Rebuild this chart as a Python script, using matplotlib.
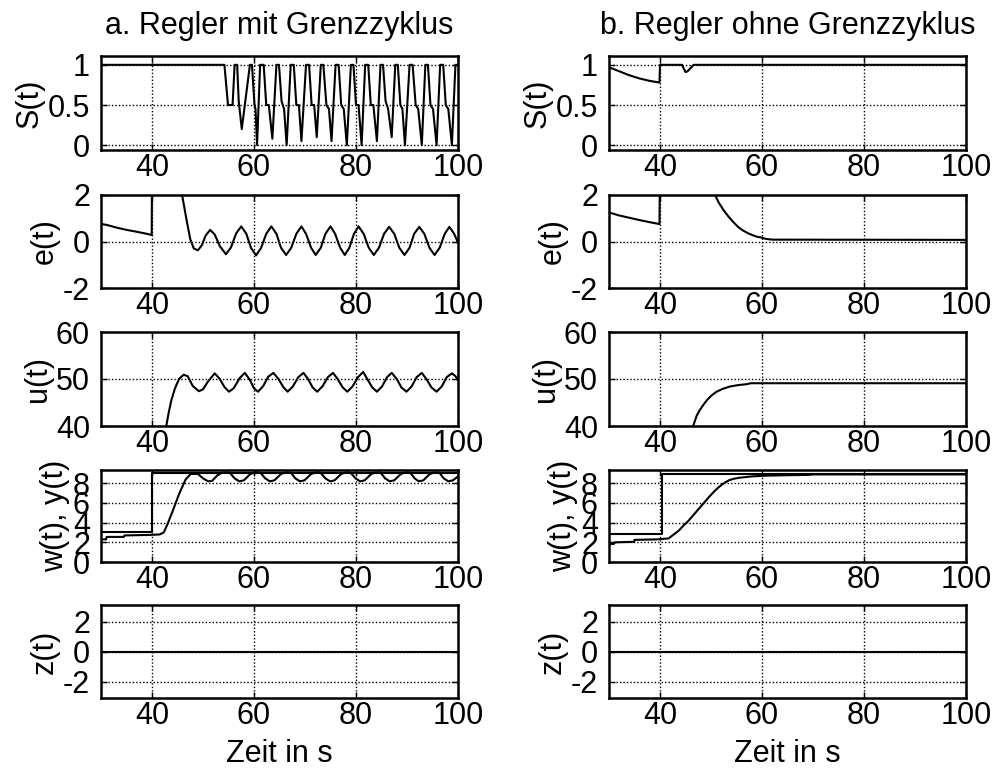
import matplotlib
matplotlib.use("Agg")
import matplotlib.pyplot as plt

# ---------------- data ----------------
x_ticks = [40, 60, 80, 100]
titles = ["a. Regler mit Grenzzyklus", "b. Regler ohne Grenzzyklus"]
row_labels = ["S(t)", "e(t)", "u(t)", "w(t), y(t)", "z(t)"]
xlabel_text = "Zeit in s"

# Left column: controller with limit cycle
S_a_t = [30, 54.2, 54.9, 55.8, 56.2,
         56.7, 57.0, 57.6, 58.4, 59.2,
         59.6, 60.1, 60.3, 60.6, 61.2,
         61.9, 62.4, 62.9, 63.6, 64.4,
         64.9, 65.4, 65.9, 66.4, 67.2,
         67.8, 68.3, 68.8, 69.3, 70.2,
         70.8, 71.3, 71.8, 72.3, 73.1,
         73.6, 74.2, 74.7, 75.2, 76.0,
         76.6, 77.1, 77.6, 78.2, 79.0,
         79.5, 80.0, 80.5, 81.1, 81.8,
         82.4, 82.9, 83.4, 84.1, 84.8,
         85.3, 85.8, 86.3, 87.0, 87.7,
         88.2, 88.7, 89.1, 89.6, 90.5,
         91.1, 91.7, 92.2, 92.9, 93.6,
         94.1, 94.6, 95.1, 95.8, 96.5,
         97.1, 97.6, 98.1, 98.8, 99.5,
         100]
S_a_v = [1, 1, 0.5, 0.5, 1,
         1, 0.55, 0.2, 0.6, 1,
         1, 0.5, 0.45, 0.0, 1,
         1, 0.5, 0.5, 0.08, 1,
         1, 0.55, 0.45, 0.0, 1,
         1, 0.5, 0.5, 0.05, 1,
         1, 0.5, 0.5, 0.1, 1,
         1, 0.5, 0.45, 0.05, 1,
         1, 0.5, 0.45, 0.0, 1,
         1, 0.5, 0.5, 0.0, 1,
         1, 0.5, 0.5, 0.05, 1,
         1, 0.55, 0.45, 0.1, 1,
         1, 0.5, 0.45, 0.0, 1,
         1, 0.5, 0.45, 0.0, 1,
         1, 0.5, 0.45, 0.0, 1,
         1, 0.5, 0.45, 0.0, 1,
         1]

e_a_t = [30, 31, 33, 35, 37, 39, 39.95, 40.0, 45.0, 45.9, 46.8, 47.5, 48.2,
         49.0, 49.8, 50.5, 51.4, 52.3, 53.3, 54.5, 55.5, 56.5, 57.5, 58.5,
         59.4, 60.4, 61.4, 62.4, 63.4, 64.4, 65.3, 66.3, 67.3, 68.3, 69.3,
         70.2, 71.2, 72.1, 73.1, 74.0, 75.0, 75.9, 76.9, 77.8, 78.7, 79.6,
         80.5, 81.5, 82.5, 83.5, 84.5, 85.5, 86.5, 87.5, 88.5, 89.5, 90.5,
         91.4, 92.4, 93.4, 94.4, 95.4, 96.4, 97.4, 98.3, 99.2, 100]
e_a_v = [0.75, 0.72, 0.6, 0.5, 0.42, 0.33, 0.28, 3.5, 2.8, 2.0, 0.9, 0.1, -0.3,
         -0.38, -0.15, 0.25, 0.5, 0.3, -0.2, -0.55, -0.25, 0.35, 0.65, 0.33,
         -0.27, -0.6, -0.27, 0.33, 0.65, 0.33, -0.27, -0.58, -0.27, 0.33, 0.65,
         0.33, -0.27, -0.58, -0.27, 0.33, 0.65, 0.33, -0.27, -0.58, -0.27, 0.33,
         0.65, 0.33, -0.27, -0.58, -0.27, 0.33, 0.63, 0.33, -0.27, -0.58, -0.27,
         0.33, 0.63, 0.33, -0.27, -0.58, -0.27, 0.33, 0.63, 0.35, -0.05]

u_a_t = [30, 40, 41.5, 42.8, 43.3, 43.8, 44.5, 45.3, 46.2, 47.0, 48.0, 49.2,
         50.0, 51.0, 52.3, 53.3, 54.2, 55.1, 56.0, 57.2, 58.2, 59.2, 60.0,
         60.8, 61.8, 62.8, 63.8, 64.8, 65.8, 66.6, 67.6, 68.7, 69.7, 70.6,
         71.5, 72.4, 73.4, 74.5, 75.5, 76.4, 77.4, 78.3, 79.3, 80.4, 81.4,
         82.2, 83.2, 84.1, 85.1, 86.1, 87.0, 88.0, 88.9, 89.9, 90.9, 91.9,
         92.9, 93.8, 94.8, 95.8, 96.8, 97.8, 98.8, 99.5, 100]
u_a_v = [36, 36, 37.5, 40, 43, 45.5, 48, 50, 50.9, 50.6, 48.5, 47.4,
         47.8, 49.5, 51.2, 50.0, 48.3, 47.3, 48.0, 50.2, 51.3, 49.8, 48.0,
         47.3, 48.5, 50.5, 51.3, 50.0, 48.2, 47.3, 48.4, 50.4, 51.3, 50.0,
         48.2, 47.3, 48.4, 50.4, 51.3, 50.0, 48.2, 47.3, 48.4, 50.4, 51.5,
         50.0, 48.2, 47.3, 48.4, 50.4, 51.3, 50.0, 48.2, 47.3, 48.4, 50.4,
         51.3, 50.0, 48.2, 47.3, 48.4, 50.4, 51.2, 50.6, 49.8]

w_a_t = [30, 40, 40, 100]
w_a_v = [3.0, 3.0, 9.0, 9.0]

y_a_t = [30, 31.0, 31.1, 34.5, 34.6, 39.5, 41.5, 42.3, 43.0, 44.0, 45.3, 46.6,
         47.6, 49.0, 50.0, 51.0, 51.8, 52.8, 53.8, 55.2, 56.2, 57.1, 58.0,
         59.2, 60.0, 61.2, 62.2, 63.1, 64.0, 65.2, 66.0, 67.2, 68.1, 69.0,
         69.9, 71.1, 71.9, 73.0, 74.0, 74.9, 75.8, 77.0, 77.8, 78.9, 79.9,
         80.8, 81.7, 82.9, 83.7, 84.8, 85.7, 86.6, 87.5, 88.7, 89.5, 90.6,
         91.5, 92.3, 93.2, 94.4, 95.2, 96.3, 97.2, 98.1, 99.0, 100]
y_a_v = [2.3, 2.3, 2.55, 2.55, 2.7, 2.75, 2.8, 3.0, 3.8, 5.1, 6.9, 8.4,
         8.95, 8.95, 8.5, 8.2, 8.25, 8.8, 9.1, 9.1, 8.5, 8.2, 8.3,
         8.9, 9.1, 9.1, 8.5, 8.2, 8.3, 8.9, 9.1, 9.1, 8.5, 8.2,
         8.3, 8.9, 9.1, 9.1, 8.5, 8.2, 8.3, 8.9, 9.1, 9.1, 8.5,
         8.2, 8.3, 8.9, 9.1, 9.1, 8.5, 8.2, 8.3, 8.9, 9.1, 9.1,
         8.5, 8.2, 8.3, 8.9, 9.1, 9.1, 8.5, 8.2, 8.3, 8.7]

# Right column: controller without limit cycle
S_b_t = [30, 32, 34, 36, 38, 39.9, 40.0, 44.3, 45.0, 45.4, 46.6, 100]
S_b_v = [0.97, 0.92, 0.87, 0.83, 0.80, 0.78, 1.0, 1.0, 0.91, 0.92, 1.0, 1.0]

e_b_t = [30, 32, 34, 36, 38, 39.9, 40.0, 50.0, 50.8, 51.5, 52.4, 53.4, 54.4,
         55.3, 56.3, 57.3, 58.3, 59.1, 59.9, 60.6, 61.2, 62.0, 100]
e_b_v = [1.25, 1.12, 1.02, 0.92, 0.83, 0.75, 3.5, 2.6, 2.0, 1.68, 1.37, 1.08, 0.83,
         0.63, 0.47, 0.35, 0.26, 0.2, 0.17, 0.12, 0.1, 0.08, 0.07]

u_b_t = [30, 46.2, 46.5, 47.2, 47.8, 48.5, 49.2, 50.1, 51.1, 52.3, 53.7, 55.3,
         57.0, 57.8, 100]
u_b_v = [36, 39.5, 40, 42.2, 43.4, 44.5, 45.5, 46.5, 47.3, 47.9, 48.4, 48.7,
         48.9, 49.1, 49.1]

w_b_t = [30, 40.3, 40.3, 100]
w_b_v = [2.8, 2.8, 8.9, 8.9]

y_b_t = [30, 31.0, 31.2, 34.9, 35.0, 39.5, 41.7, 42.7, 43.7, 44.6, 45.6, 46.6,
         47.6, 48.6, 49.6, 50.5, 51.5, 52.5, 53.5, 54.4, 55.4, 58.0, 60.6, 65,
         69.1, 70, 100]
y_b_v = [1.8, 1.85, 2.0, 2.05, 2.25, 2.3, 2.4, 2.8, 3.2, 3.7, 4.2, 4.8,
         5.4, 6.0, 6.6, 7.1, 7.6, 8.0, 8.3, 8.45, 8.55, 8.7, 8.77, 8.82,
         8.85, 8.9, 8.9]

z_t = [30, 100]
z_v = [0, 0]

# axis ranges and ticks per row
row_ylims = [(-0.06, 1.11), (-2, 2), (40, 60), (0, 9.35), (-3.1, 3.1)]
row_yticks = [[0, 0.5, 1], [-2, 0, 2], [40, 50, 60], [0, 2, 4, 6, 8], [-2, 0, 2]]
row_yticklabels = [["0", "0.5", "1"], ["-2", "0", "2"], ["40", "50", "60"],
                   ["0", "2", "4", "6", "8"], ["-2", "0", "2"]]

# ---------------- figure ----------------
plt.rcParams['font.family'] = ['Liberation Sans', 'DejaVu Sans']
FS = 22
W, H = 994, 778
fig = plt.figure(figsize=(W / 100, H / 100), dpi=100)

col_x = [101, 609]
ax_w = 357
rows_px = [(56, 150), (195, 288), (332, 426), (470, 562), (605, 698)]

series = [
    [[(S_a_t, S_a_v)], [(e_a_t, e_a_v)], [(u_a_t, u_a_v)],
     [(w_a_t, w_a_v), (y_a_t, y_a_v)], [(z_t, z_v)]],
    [[(S_b_t, S_b_v)], [(e_b_t, e_b_v)], [(u_b_t, u_b_v)],
     [(w_b_t, w_b_v), (y_b_t, y_b_v)], [(z_t, z_v)]],
]

for c in range(2):
    for r in range(5):
        top, bot = rows_px[r]
        ax = fig.add_axes([col_x[c] / W, 1 - bot / H, ax_w / W, (bot - top) / H])
        for (tt, vv) in series[c][r]:
            ax.plot(tt, vv, color='black', lw=1.5, clip_on=True)
        ax.set_xlim(30, 100)
        ax.set_ylim(*row_ylims[r])
        ax.set_xticks(x_ticks)
        ax.set_xticklabels([str(v) for v in x_ticks], fontsize=FS)
        ax.set_yticks(row_yticks[r])
        ax.set_yticklabels(row_yticklabels[r], fontsize=FS)
        ax.tick_params(direction='in', length=4, width=1, top=True, right=True)
        ax.tick_params(axis='x', pad=2)
        ax.tick_params(axis='y', pad=8)
        ax.grid(True, color='black', linestyle=(0, (1, 1.5)), lw=1.0)
        for sp in ax.spines.values():
            sp.set_linewidth(1.8)
        ax.set_ylabel(row_labels[r], fontsize=FS, labelpad=2)
        if r == 0:
            ax.set_title(titles[c], fontsize=FS, pad=16)
        if r == 4:
            ax.set_xlabel(xlabel_text, fontsize=FS, labelpad=6)

fig.savefig("out.png", dpi=100, facecolor='white')
